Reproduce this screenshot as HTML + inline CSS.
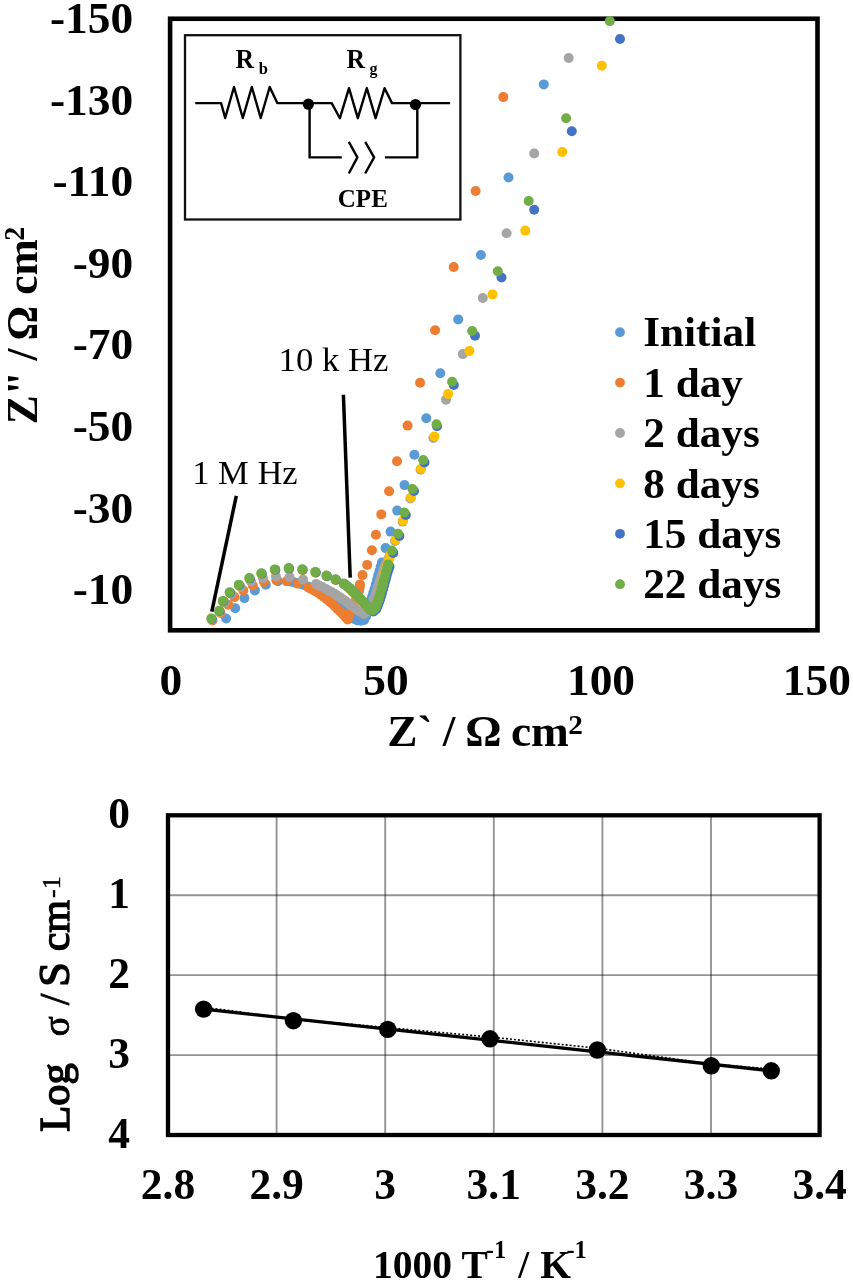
<!DOCTYPE html>
<html><head><meta charset="utf-8"><style>
html,body{margin:0;padding:0;background:#fff;width:853px;height:1280px;overflow:hidden}
svg{display:block;will-change:transform}
</style></head><body>
<svg width="853" height="1280" viewBox="0 0 853 1280">
<rect x="170.1" y="18.75" width="647.4" height="611.55" fill="none" stroke="#000" stroke-width="4.6"/>
<text transform="translate(133.20,33.00) scale(1.045,1)" text-anchor="end" font-family="&#39;Liberation Serif&#39;, serif" font-weight="bold" font-size="43.5">-150</text>
<text transform="translate(133.20,114.60) scale(1.045,1)" text-anchor="end" font-family="&#39;Liberation Serif&#39;, serif" font-weight="bold" font-size="43.5">-130</text>
<text transform="translate(133.20,196.20) scale(1.045,1)" text-anchor="end" font-family="&#39;Liberation Serif&#39;, serif" font-weight="bold" font-size="43.5">-110</text>
<text transform="translate(133.20,277.80) scale(1.045,1)" text-anchor="end" font-family="&#39;Liberation Serif&#39;, serif" font-weight="bold" font-size="43.5">-90</text>
<text transform="translate(133.20,359.40) scale(1.045,1)" text-anchor="end" font-family="&#39;Liberation Serif&#39;, serif" font-weight="bold" font-size="43.5">-70</text>
<text transform="translate(133.20,441.00) scale(1.045,1)" text-anchor="end" font-family="&#39;Liberation Serif&#39;, serif" font-weight="bold" font-size="43.5">-50</text>
<text transform="translate(133.20,522.60) scale(1.045,1)" text-anchor="end" font-family="&#39;Liberation Serif&#39;, serif" font-weight="bold" font-size="43.5">-30</text>
<text transform="translate(133.20,604.20) scale(1.045,1)" text-anchor="end" font-family="&#39;Liberation Serif&#39;, serif" font-weight="bold" font-size="43.5">-10</text>
<text transform="translate(170.80,694.60) scale(1.045,1)" text-anchor="middle" font-family="&#39;Liberation Serif&#39;, serif" font-weight="bold" font-size="43.5">0</text>
<text transform="translate(386.00,694.60) scale(1.045,1)" text-anchor="middle" font-family="&#39;Liberation Serif&#39;, serif" font-weight="bold" font-size="43.5">50</text>
<text transform="translate(601.00,694.60) scale(1.045,1)" text-anchor="middle" font-family="&#39;Liberation Serif&#39;, serif" font-weight="bold" font-size="43.5">100</text>
<text transform="translate(816.80,694.60) scale(1.045,1)" text-anchor="middle" font-family="&#39;Liberation Serif&#39;, serif" font-weight="bold" font-size="43.5">150</text>
<text transform="translate(387.30,745.80) scale(1.045,1)" font-family="&#39;Liberation Serif&#39;, serif" font-weight="bold" font-size="43.4">Z`</text>
<text transform="translate(442.80,745.80) scale(1.045,1)" font-family="&#39;Liberation Serif&#39;, serif" font-weight="bold" font-size="43.4">/</text>
<text transform="translate(465.30,745.80) scale(1.045,1)" font-family="&#39;Liberation Serif&#39;, serif" font-weight="bold" font-size="43.4">Ω</text>
<text transform="translate(510.90,745.80) scale(1.045,1)" font-family="&#39;Liberation Serif&#39;, serif" font-weight="bold" font-size="43.4">cm</text>
<text transform="translate(568.30,733.70) scale(1.045,1)" font-family="&#39;Liberation Serif&#39;, serif" font-weight="bold" font-size="28">2</text>
<g transform="translate(37.2,424.3) rotate(-90) scale(1,1.045)"><text x="0" y="0" font-family="&#39;Liberation Serif&#39;, serif" font-weight="bold" font-size="43.4">Z&quot;</text><text x="63.9" y="0" font-family="&#39;Liberation Serif&#39;, serif" font-weight="bold" font-size="43.4">/</text><text x="83.9" y="0" font-family="&#39;Liberation Serif&#39;, serif" font-weight="bold" font-size="43.4">Ω</text><text x="129.6" y="0" font-family="&#39;Liberation Serif&#39;, serif" font-weight="bold" font-size="43.4">cm</text><text x="183.5" y="-12.6" font-family="&#39;Liberation Serif&#39;, serif" font-weight="bold" font-size="28">2</text></g>
<rect x="185" y="35.2" width="275.4" height="184.3" fill="#fff" stroke="#111" stroke-width="2.3"/>
<polyline fill="none" stroke="#000" stroke-width="2.4" stroke-linejoin="round" points="195.3,103.1 221.1,103.1 225.2,118 234,87 242.8,118 251.8,87 260.7,118 269.7,87 277.3,103.1 308.3,103.1"/>
<polyline fill="none" stroke="#000" stroke-width="2.4" stroke-linejoin="round" points="308.3,103.1 331.7,103.1 339.9,118.2 349,88.2 357.8,118.2 366.8,88.2 375.6,118.2 384.6,88.2 392,103.1 415.5,103.1 450.1,103.1"/>
<polyline fill="none" stroke="#000" stroke-width="2.4" stroke-linejoin="round" points="309.6,104 309.6,157.4 341.8,157.4"/>
<polyline fill="none" stroke="#000" stroke-width="2.4" stroke-linejoin="round" points="384.9,157.4 417.3,157.4 417.3,104"/>
<polyline fill="none" stroke="#000" stroke-width="2.4" stroke-linejoin="round" points="348.8,141.8 357.4,157.4 348.8,173.5"/>
<polyline fill="none" stroke="#000" stroke-width="2.4" stroke-linejoin="round" points="365.2,141.8 374.1,157.4 365.2,173.5"/>
<circle cx="308.4" cy="104.2" r="5.6" fill="#000"/>
<circle cx="415.5" cy="104.5" r="5.6" fill="#000"/>
<text transform="translate(235.50,67.60) scale(0.97,1)" font-family="&#39;Liberation Serif&#39;, serif" font-weight="bold" font-size="26.5">R</text>
<text transform="translate(258.80,73.70) scale(1.0,1)" font-family="&#39;Liberation Serif&#39;, serif" font-weight="bold" font-size="16.5">b</text>
<text transform="translate(346.50,67.60) scale(0.97,1)" font-family="&#39;Liberation Serif&#39;, serif" font-weight="bold" font-size="26.5">R</text>
<text transform="translate(369.40,74.00) scale(1.0,1)" font-family="&#39;Liberation Serif&#39;, serif" font-weight="bold" font-size="16">g</text>
<text transform="translate(337.80,206.60) scale(1.0,1)" font-family="&#39;Liberation Serif&#39;, serif" font-weight="bold" font-size="25">CPE</text>
<text transform="translate(278.60,371.40) scale(1.02,1)" font-family="&#39;Liberation Serif&#39;, serif" font-weight="normal" font-size="34">10 k Hz</text>
<line x1="343.4" y1="394.8" x2="350.2" y2="577.6" stroke="#000" stroke-width="3.5"/>
<text transform="translate(192.20,483.50) scale(1.0,1)" font-family="&#39;Liberation Serif&#39;, serif" font-weight="normal" font-size="34.5">1 M Hz</text>
<line x1="236.3" y1="495.8" x2="211.8" y2="611.7" stroke="#000" stroke-width="3.5"/>
<circle cx="620" cy="332.2" r="4.9" fill="#5B9BD5"/>
<text transform="translate(643.20,346.30) scale(1.045,1)" font-family="&#39;Liberation Serif&#39;, serif" font-weight="bold" font-size="41.4">Initial</text>
<circle cx="620" cy="382.6" r="4.9" fill="#ED7D31"/>
<text transform="translate(643.20,396.70) scale(1.045,1)" font-family="&#39;Liberation Serif&#39;, serif" font-weight="bold" font-size="41.4">1 day</text>
<circle cx="620" cy="433.0" r="4.9" fill="#A5A5A5"/>
<text transform="translate(643.20,447.10) scale(1.045,1)" font-family="&#39;Liberation Serif&#39;, serif" font-weight="bold" font-size="41.4">2 days</text>
<circle cx="620" cy="483.4" r="4.9" fill="#FFC000"/>
<text transform="translate(643.20,497.50) scale(1.045,1)" font-family="&#39;Liberation Serif&#39;, serif" font-weight="bold" font-size="41.4">8 days</text>
<circle cx="620" cy="533.8" r="4.9" fill="#4472C4"/>
<text transform="translate(643.20,547.90) scale(1.045,1)" font-family="&#39;Liberation Serif&#39;, serif" font-weight="bold" font-size="41.4">15 days</text>
<circle cx="620" cy="584.2" r="4.9" fill="#70AD47"/>
<text transform="translate(643.20,598.30) scale(1.045,1)" font-family="&#39;Liberation Serif&#39;, serif" font-weight="bold" font-size="41.4">22 days</text>
<g fill="#5B9BD5"><circle cx="226.1" cy="618.5" r="5.0"/><circle cx="235.2" cy="608.3" r="5.0"/><circle cx="244.4" cy="598.1" r="5.0"/><circle cx="254.9" cy="590.4" r="5.0"/><circle cx="265.8" cy="584.8" r="5.0"/><circle cx="278.0" cy="581.2" r="5.0"/><circle cx="290.0" cy="581.5" r="5.0"/><circle cx="293.7" cy="582.3" r="5.0"/><circle cx="297.3" cy="583.2" r="5.0"/><circle cx="301.0" cy="584.0" r="5.0"/><circle cx="304.7" cy="585.3" r="5.0"/><circle cx="308.3" cy="586.7" r="5.0"/><circle cx="312.0" cy="588.0" r="5.0"/><circle cx="315.3" cy="589.8" r="5.0"/><circle cx="318.7" cy="591.7" r="5.0"/><circle cx="322.0" cy="593.5" r="5.0"/><circle cx="325.0" cy="595.7" r="5.0"/><circle cx="328.0" cy="597.8" r="5.0"/><circle cx="331.0" cy="600.0" r="5.0"/><circle cx="333.7" cy="602.3" r="5.0"/><circle cx="336.3" cy="604.7" r="5.0"/><circle cx="339.0" cy="607.0" r="5.0"/><circle cx="342.5" cy="610.2" r="5.0"/><circle cx="346.0" cy="613.5" r="5.0"/><circle cx="349.0" cy="615.8" r="5.0"/><circle cx="352.0" cy="618.0" r="5.0"/><circle cx="354.8" cy="619.2" r="5.0"/><circle cx="357.6" cy="620.5" r="5.0"/><circle cx="361.0" cy="620.8" r="5.0"/><circle cx="364.1" cy="619.9" r="5.0"/><circle cx="366.0" cy="616.5" r="5.0"/><circle cx="366.9" cy="613.8" r="5.0"/><circle cx="367.8" cy="611.0" r="5.0"/><circle cx="368.8" cy="607.5" r="5.0"/><circle cx="369.8" cy="604.0" r="5.0"/><circle cx="370.9" cy="600.5" r="5.0"/><circle cx="372.0" cy="597.0" r="5.0"/><circle cx="373.2" cy="593.0" r="5.0"/><circle cx="374.5" cy="589.0" r="5.0"/><circle cx="375.8" cy="584.5" r="5.0"/><circle cx="377.0" cy="580.0" r="5.0"/><circle cx="378.2" cy="575.5" r="5.0"/><circle cx="379.5" cy="571.0" r="5.0"/><circle cx="380.7" cy="566.8" r="5.0"/><circle cx="381.9" cy="562.5" r="5.0"/><circle cx="385.6" cy="548.1" r="5.0"/><circle cx="390.6" cy="531.6" r="5.0"/><circle cx="397.2" cy="510.6" r="5.0"/><circle cx="404.5" cy="485.1" r="5.0"/><circle cx="414.4" cy="454.8" r="5.0"/><circle cx="426.3" cy="418.2" r="5.0"/><circle cx="440.3" cy="373.2" r="5.0"/><circle cx="458.2" cy="319.4" r="5.0"/><circle cx="480.9" cy="255.0" r="5.0"/><circle cx="508.5" cy="177.5" r="5.0"/><circle cx="543.8" cy="84.4" r="5.0"/></g>
<g fill="#ED7D31"><circle cx="212.5" cy="620.5" r="5.0"/><circle cx="220.5" cy="613.0" r="5.0"/><circle cx="228.2" cy="604.8" r="5.0"/><circle cx="234.5" cy="597.1" r="5.0"/><circle cx="243.3" cy="590.4" r="5.0"/><circle cx="252.8" cy="585.5" r="5.0"/><circle cx="264.0" cy="582.0" r="5.0"/><circle cx="276.3" cy="580.3" r="5.0"/><circle cx="286.6" cy="581.3" r="5.0"/><circle cx="297.8" cy="583.6" r="5.0"/><circle cx="308.2" cy="587.4" r="5.0"/><circle cx="311.5" cy="589.2" r="5.0"/><circle cx="314.9" cy="591.0" r="5.0"/><circle cx="318.2" cy="592.8" r="5.0"/><circle cx="320.9" cy="594.7" r="5.0"/><circle cx="323.7" cy="596.7" r="5.0"/><circle cx="326.4" cy="598.6" r="5.0"/><circle cx="329.1" cy="601.1" r="5.0"/><circle cx="331.9" cy="603.5" r="5.0"/><circle cx="334.6" cy="606.0" r="5.0"/><circle cx="337.3" cy="608.7" r="5.0"/><circle cx="340.1" cy="611.4" r="5.0"/><circle cx="342.8" cy="614.1" r="5.0"/><circle cx="345.2" cy="616.8" r="5.0"/><circle cx="347.7" cy="619.5" r="5.0"/><circle cx="349.1" cy="615.8" r="5.0"/><circle cx="350.5" cy="612.0" r="5.0"/><circle cx="352.2" cy="608.2" r="5.0"/><circle cx="354.0" cy="604.5" r="5.0"/><circle cx="355.5" cy="600.8" r="5.0"/><circle cx="357.0" cy="597.0" r="5.0"/><circle cx="358.1" cy="593.7" r="5.0"/><circle cx="359.2" cy="590.4" r="5.0"/><circle cx="359.6" cy="587.4" r="5.0"/><circle cx="360.0" cy="584.4" r="5.0"/><circle cx="362.5" cy="575.1" r="5.0"/><circle cx="367.2" cy="564.9" r="5.0"/><circle cx="371.9" cy="550.3" r="5.0"/><circle cx="375.9" cy="534.7" r="5.0"/><circle cx="381.3" cy="514.4" r="5.0"/><circle cx="389.1" cy="491.3" r="5.0"/><circle cx="397.0" cy="461.3" r="5.0"/><circle cx="407.6" cy="425.6" r="5.0"/><circle cx="420.1" cy="382.8" r="5.0"/><circle cx="435.1" cy="330.3" r="5.0"/><circle cx="453.7" cy="267.0" r="5.0"/><circle cx="475.6" cy="191.0" r="5.0"/><circle cx="503.3" cy="97.1" r="5.0"/></g>
<g fill="#A5A5A5"><circle cx="212.0" cy="619.5" r="5.0"/><circle cx="219.5" cy="612.0" r="5.0"/><circle cx="224.5" cy="602.5" r="5.0"/><circle cx="231.5" cy="594.0" r="5.0"/><circle cx="240.5" cy="587.0" r="5.0"/><circle cx="251.0" cy="581.5" r="5.0"/><circle cx="263.0" cy="578.0" r="5.0"/><circle cx="276.0" cy="576.5" r="5.0"/><circle cx="289.5" cy="577.0" r="5.0"/><circle cx="303.0" cy="579.5" r="5.0"/><circle cx="316.0" cy="584.0" r="5.0"/><circle cx="319.3" cy="585.7" r="5.0"/><circle cx="322.7" cy="587.3" r="5.0"/><circle cx="326.0" cy="589.0" r="5.0"/><circle cx="329.0" cy="590.7" r="5.0"/><circle cx="332.0" cy="592.3" r="5.0"/><circle cx="335.0" cy="594.0" r="5.0"/><circle cx="338.0" cy="596.0" r="5.0"/><circle cx="341.0" cy="598.0" r="5.0"/><circle cx="344.0" cy="600.0" r="5.0"/><circle cx="346.7" cy="602.0" r="5.0"/><circle cx="349.3" cy="604.0" r="5.0"/><circle cx="352.0" cy="606.0" r="5.0"/><circle cx="355.5" cy="608.5" r="5.0"/><circle cx="359.0" cy="611.0" r="5.0"/><circle cx="361.5" cy="612.5" r="5.0"/><circle cx="364.0" cy="614.0" r="5.0"/><circle cx="366.0" cy="612.0" r="5.0"/><circle cx="368.0" cy="610.0" r="5.0"/><circle cx="370.0" cy="606.5" r="5.0"/><circle cx="372.0" cy="603.0" r="5.0"/><circle cx="373.8" cy="599.0" r="5.0"/><circle cx="375.5" cy="595.0" r="5.0"/><circle cx="376.5" cy="592.0" r="5.0"/><circle cx="377.5" cy="589.0" r="5.0"/><circle cx="378.5" cy="586.0" r="5.0"/><circle cx="379.5" cy="582.7" r="5.0"/><circle cx="380.5" cy="579.3" r="5.0"/><circle cx="381.5" cy="576.0" r="5.0"/><circle cx="382.7" cy="572.7" r="5.0"/><circle cx="383.8" cy="569.3" r="5.0"/><circle cx="385.0" cy="566.0" r="5.0"/><circle cx="386.7" cy="562.5" r="5.0"/><circle cx="388.4" cy="558.9" r="5.0"/><circle cx="390.1" cy="555.4" r="5.0"/><circle cx="395.1" cy="541.0" r="5.0"/><circle cx="402.6" cy="521.6" r="5.0"/><circle cx="410.4" cy="498.5" r="5.0"/><circle cx="420.5" cy="469.7" r="5.0"/><circle cx="433.4" cy="438.0" r="5.0"/><circle cx="446.0" cy="399.7" r="5.0"/><circle cx="462.8" cy="354.1" r="5.0"/><circle cx="482.8" cy="298.0" r="5.0"/><circle cx="506.6" cy="233.2" r="5.0"/><circle cx="534.2" cy="153.5" r="5.0"/><circle cx="568.7" cy="58.0" r="5.0"/></g>
<g fill="#FFC000"><circle cx="211.6" cy="619.3" r="5.0"/><circle cx="219.4" cy="611.6" r="5.0"/><circle cx="223.2" cy="601.7" r="5.0"/><circle cx="229.9" cy="593.0" r="5.0"/><circle cx="239.1" cy="585.6" r="5.0"/><circle cx="249.6" cy="578.9" r="5.0"/><circle cx="261.6" cy="574.0" r="5.0"/><circle cx="275.1" cy="570.2" r="5.0"/><circle cx="288.9" cy="568.9" r="5.0"/><circle cx="302.5" cy="570.1" r="5.0"/><circle cx="315.6" cy="572.7" r="5.0"/><circle cx="326.7" cy="576.4" r="5.0"/><circle cx="335.7" cy="580.1" r="5.0"/><circle cx="343.9" cy="584.2" r="5.0"/><circle cx="346.8" cy="586.5" r="5.0"/><circle cx="349.7" cy="588.7" r="5.0"/><circle cx="351.9" cy="590.9" r="5.0"/><circle cx="354.0" cy="593.1" r="5.0"/><circle cx="356.2" cy="595.3" r="5.0"/><circle cx="358.4" cy="597.5" r="5.0"/><circle cx="360.6" cy="599.6" r="5.0"/><circle cx="362.8" cy="601.8" r="5.0"/><circle cx="365.1" cy="604.3" r="5.0"/><circle cx="367.3" cy="606.8" r="5.0"/><circle cx="368.9" cy="608.5" r="5.0"/><circle cx="370.5" cy="610.3" r="5.0"/><circle cx="373.5" cy="611.3" r="5.0"/><circle cx="376.0" cy="608.5" r="5.0"/><circle cx="377.0" cy="605.8" r="5.0"/><circle cx="378.0" cy="603.0" r="5.0"/><circle cx="378.8" cy="600.2" r="5.0"/><circle cx="379.5" cy="597.5" r="5.0"/><circle cx="380.2" cy="594.8" r="5.0"/><circle cx="381.0" cy="592.0" r="5.0"/><circle cx="381.6" cy="589.2" r="5.0"/><circle cx="382.2" cy="586.5" r="5.0"/><circle cx="382.9" cy="582.7" r="5.0"/><circle cx="383.7" cy="578.9" r="5.0"/><circle cx="384.4" cy="575.1" r="5.0"/><circle cx="385.3" cy="572.0" r="5.0"/><circle cx="386.2" cy="569.0" r="5.0"/><circle cx="387.1" cy="565.9" r="5.0"/><circle cx="388.3" cy="562.1" r="5.0"/><circle cx="389.4" cy="558.2" r="5.0"/><circle cx="390.6" cy="554.4" r="5.0"/><circle cx="395.6" cy="540.0" r="5.0"/><circle cx="403.1" cy="520.6" r="5.0"/><circle cx="410.9" cy="497.5" r="5.0"/><circle cx="421.0" cy="468.7" r="5.0"/><circle cx="434.4" cy="436.5" r="5.0"/><circle cx="448.2" cy="393.9" r="5.0"/><circle cx="469.4" cy="350.9" r="5.0"/><circle cx="492.5" cy="294.4" r="5.0"/><circle cx="525.3" cy="230.6" r="5.0"/><circle cx="562.3" cy="152.0" r="5.0"/><circle cx="601.8" cy="65.8" r="5.0"/></g>
<g fill="#4472C4"><circle cx="211.8" cy="619.0" r="5.0"/><circle cx="219.6" cy="611.3" r="5.0"/><circle cx="223.4" cy="601.4" r="5.0"/><circle cx="230.1" cy="592.7" r="5.0"/><circle cx="239.3" cy="585.3" r="5.0"/><circle cx="249.8" cy="578.6" r="5.0"/><circle cx="261.8" cy="573.7" r="5.0"/><circle cx="275.3" cy="569.9" r="5.0"/><circle cx="289.1" cy="568.6" r="5.0"/><circle cx="302.7" cy="569.8" r="5.0"/><circle cx="315.8" cy="572.4" r="5.0"/><circle cx="326.9" cy="576.1" r="5.0"/><circle cx="335.9" cy="579.8" r="5.0"/><circle cx="344.1" cy="583.9" r="5.0"/><circle cx="347.0" cy="586.1" r="5.0"/><circle cx="349.9" cy="588.4" r="5.0"/><circle cx="352.1" cy="590.6" r="5.0"/><circle cx="354.2" cy="592.8" r="5.0"/><circle cx="356.4" cy="595.0" r="5.0"/><circle cx="358.6" cy="597.2" r="5.0"/><circle cx="360.8" cy="599.3" r="5.0"/><circle cx="363.0" cy="601.5" r="5.0"/><circle cx="365.2" cy="604.0" r="5.0"/><circle cx="367.5" cy="606.5" r="5.0"/><circle cx="369.0" cy="608.2" r="5.0"/><circle cx="370.5" cy="610.0" r="5.0"/><circle cx="373.5" cy="611.5" r="5.0"/><circle cx="376.0" cy="609.5" r="5.0"/><circle cx="377.0" cy="607.2" r="5.0"/><circle cx="378.0" cy="605.0" r="5.0"/><circle cx="379.0" cy="602.2" r="5.0"/><circle cx="380.0" cy="599.5" r="5.0"/><circle cx="381.0" cy="596.2" r="5.0"/><circle cx="382.0" cy="593.0" r="5.0"/><circle cx="383.0" cy="589.2" r="5.0"/><circle cx="384.0" cy="585.5" r="5.0"/><circle cx="384.8" cy="582.3" r="5.0"/><circle cx="385.7" cy="579.2" r="5.0"/><circle cx="386.5" cy="576.0" r="5.0"/><circle cx="387.5" cy="572.8" r="5.0"/><circle cx="388.5" cy="569.7" r="5.0"/><circle cx="389.5" cy="566.5" r="5.0"/><circle cx="393.3" cy="553.0" r="5.0"/><circle cx="399.4" cy="536.0" r="5.0"/><circle cx="405.8" cy="515.0" r="5.0"/><circle cx="414.0" cy="491.0" r="5.0"/><circle cx="424.5" cy="462.5" r="5.0"/><circle cx="437.0" cy="426.3" r="5.0"/><circle cx="453.8" cy="385.0" r="5.0"/><circle cx="475.0" cy="335.7" r="5.0"/><circle cx="501.5" cy="277.5" r="5.0"/><circle cx="534.2" cy="209.8" r="5.0"/><circle cx="571.8" cy="131.2" r="5.0"/><circle cx="620.0" cy="39.0" r="5.0"/></g>
<g fill="#70AD47"><circle cx="211.3" cy="618.5" r="5.0"/><circle cx="219.1" cy="610.8" r="5.0"/><circle cx="222.9" cy="600.9" r="5.0"/><circle cx="229.6" cy="592.2" r="5.0"/><circle cx="238.8" cy="584.8" r="5.0"/><circle cx="249.3" cy="578.1" r="5.0"/><circle cx="261.3" cy="573.2" r="5.0"/><circle cx="274.8" cy="569.4" r="5.0"/><circle cx="288.6" cy="568.1" r="5.0"/><circle cx="302.2" cy="569.3" r="5.0"/><circle cx="315.3" cy="571.9" r="5.0"/><circle cx="326.4" cy="575.6" r="5.0"/><circle cx="335.4" cy="579.3" r="5.0"/><circle cx="343.6" cy="583.4" r="5.0"/><circle cx="346.5" cy="585.6" r="5.0"/><circle cx="349.4" cy="587.9" r="5.0"/><circle cx="351.6" cy="590.1" r="5.0"/><circle cx="353.7" cy="592.3" r="5.0"/><circle cx="355.9" cy="594.5" r="5.0"/><circle cx="358.1" cy="596.7" r="5.0"/><circle cx="360.3" cy="598.8" r="5.0"/><circle cx="362.5" cy="601.0" r="5.0"/><circle cx="364.8" cy="603.5" r="5.0"/><circle cx="367.0" cy="606.0" r="5.0"/><circle cx="368.5" cy="607.8" r="5.0"/><circle cx="370.0" cy="609.5" r="5.0"/><circle cx="372.5" cy="610.5" r="5.0"/><circle cx="374.5" cy="609.0" r="5.0"/><circle cx="375.5" cy="606.9" r="5.0"/><circle cx="376.5" cy="604.7" r="5.0"/><circle cx="377.5" cy="602.0" r="5.0"/><circle cx="378.5" cy="599.4" r="5.0"/><circle cx="379.5" cy="596.2" r="5.0"/><circle cx="380.5" cy="593.0" r="5.0"/><circle cx="381.5" cy="589.1" r="5.0"/><circle cx="382.5" cy="585.2" r="5.0"/><circle cx="383.3" cy="582.1" r="5.0"/><circle cx="384.2" cy="578.9" r="5.0"/><circle cx="385.0" cy="575.8" r="5.0"/><circle cx="386.0" cy="572.0" r="5.0"/><circle cx="387.1" cy="568.2" r="5.0"/><circle cx="388.1" cy="564.4" r="5.0"/><circle cx="391.9" cy="550.6" r="5.0"/><circle cx="398.1" cy="533.8" r="5.0"/><circle cx="404.4" cy="512.5" r="5.0"/><circle cx="412.5" cy="489.0" r="5.0"/><circle cx="423.2" cy="460.0" r="5.0"/><circle cx="436.5" cy="424.2" r="5.0"/><circle cx="452.1" cy="381.7" r="5.0"/><circle cx="472.2" cy="331.0" r="5.0"/><circle cx="497.8" cy="271.3" r="5.0"/><circle cx="528.7" cy="201.0" r="5.0"/><circle cx="566.1" cy="118.2" r="5.0"/><circle cx="609.8" cy="21.1" r="5.0"/></g>
<line x1="168" y1="895.2" x2="819.6" y2="895.2" stroke="#000" stroke-opacity="0.42" stroke-width="1.9"/>
<line x1="168" y1="975.1" x2="819.6" y2="975.1" stroke="#000" stroke-opacity="0.42" stroke-width="1.9"/>
<line x1="168" y1="1055.1" x2="819.6" y2="1055.1" stroke="#000" stroke-opacity="0.42" stroke-width="1.9"/>
<line x1="276.6" y1="815.3" x2="276.6" y2="1135" stroke="#000" stroke-opacity="0.42" stroke-width="1.9"/>
<line x1="385.2" y1="815.3" x2="385.2" y2="1135" stroke="#000" stroke-opacity="0.42" stroke-width="1.9"/>
<line x1="493.8" y1="815.3" x2="493.8" y2="1135" stroke="#000" stroke-opacity="0.42" stroke-width="1.9"/>
<line x1="602.4" y1="815.3" x2="602.4" y2="1135" stroke="#000" stroke-opacity="0.42" stroke-width="1.9"/>
<line x1="711.0" y1="815.3" x2="711.0" y2="1135" stroke="#000" stroke-opacity="0.42" stroke-width="1.9"/>
<rect x="168" y="815.3" width="651.6" height="319.7" fill="none" stroke="#000" stroke-width="4.3"/>
<text transform="translate(130.00,828.10) scale(1.0,1)" text-anchor="end" font-family="&#39;Liberation Serif&#39;, serif" font-weight="bold" font-size="43.5">0</text>
<text transform="translate(130.00,908.02) scale(1.0,1)" text-anchor="end" font-family="&#39;Liberation Serif&#39;, serif" font-weight="bold" font-size="43.5">1</text>
<text transform="translate(130.00,987.95) scale(1.0,1)" text-anchor="end" font-family="&#39;Liberation Serif&#39;, serif" font-weight="bold" font-size="43.5">2</text>
<text transform="translate(130.00,1067.88) scale(1.0,1)" text-anchor="end" font-family="&#39;Liberation Serif&#39;, serif" font-weight="bold" font-size="43.5">3</text>
<text transform="translate(130.00,1147.80) scale(1.0,1)" text-anchor="end" font-family="&#39;Liberation Serif&#39;, serif" font-weight="bold" font-size="43.5">4</text>
<text transform="translate(168.00,1198.60) scale(1.0,1)" text-anchor="middle" font-family="&#39;Liberation Serif&#39;, serif" font-weight="bold" font-size="43.5">2.8</text>
<text transform="translate(276.60,1198.60) scale(1.0,1)" text-anchor="middle" font-family="&#39;Liberation Serif&#39;, serif" font-weight="bold" font-size="43.5">2.9</text>
<text transform="translate(385.20,1198.60) scale(1.0,1)" text-anchor="middle" font-family="&#39;Liberation Serif&#39;, serif" font-weight="bold" font-size="43.5">3</text>
<text transform="translate(493.80,1198.60) scale(1.0,1)" text-anchor="middle" font-family="&#39;Liberation Serif&#39;, serif" font-weight="bold" font-size="43.5">3.1</text>
<text transform="translate(602.40,1198.60) scale(1.0,1)" text-anchor="middle" font-family="&#39;Liberation Serif&#39;, serif" font-weight="bold" font-size="43.5">3.2</text>
<text transform="translate(711.00,1198.60) scale(1.0,1)" text-anchor="middle" font-family="&#39;Liberation Serif&#39;, serif" font-weight="bold" font-size="43.5">3.3</text>
<text transform="translate(819.60,1198.60) scale(1.0,1)" text-anchor="middle" font-family="&#39;Liberation Serif&#39;, serif" font-weight="bold" font-size="43.5">3.4</text>
<line x1="203.6" y1="1009.1" x2="771.3" y2="1070.8" stroke="#000" stroke-width="3.3"/>
<polyline fill="none" stroke="#000" stroke-width="1.6" stroke-dasharray="2,2" points="203.6,1007.3000000000001 293.4,1018.9000000000001 387.7,1027.6000000000001 490,1037.0 597.3,1048.2 711.3,1064.0 771.3,1069.0"/>
<circle cx="203.6" cy="1009.1" r="8.7" fill="#000"/>
<circle cx="293.4" cy="1020.7" r="8.7" fill="#000"/>
<circle cx="387.7" cy="1029.4" r="8.7" fill="#000"/>
<circle cx="490" cy="1038.8" r="8.7" fill="#000"/>
<circle cx="597.3" cy="1050" r="8.7" fill="#000"/>
<circle cx="711.3" cy="1065.8" r="8.7" fill="#000"/>
<circle cx="771.3" cy="1070.8" r="8.7" fill="#000"/>
<text transform="translate(372.90,1278.00) scale(1.0,1)" font-family="&#39;Liberation Serif&#39;, serif" font-weight="bold" font-size="39.5">1000</text>
<text transform="translate(461.40,1278.00) scale(1.0,1)" font-family="&#39;Liberation Serif&#39;, serif" font-weight="bold" font-size="39.5">T</text>
<text transform="translate(485.80,1258.30) scale(1.0,1)" font-family="&#39;Liberation Serif&#39;, serif" font-weight="bold" font-size="24.5">-1</text>
<text transform="translate(518.30,1278.00) scale(1.0,1)" font-family="&#39;Liberation Serif&#39;, serif" font-weight="bold" font-size="39.5">/</text>
<text transform="translate(540.20,1278.00) scale(1.0,1)" font-family="&#39;Liberation Serif&#39;, serif" font-weight="bold" font-size="39.5">K</text>
<text transform="translate(566.40,1258.30) scale(1.0,1)" font-family="&#39;Liberation Serif&#39;, serif" font-weight="bold" font-size="24.5">-1</text>
<g transform="translate(69.3,1130.7) rotate(-90)" stroke="#000" stroke-width="0.8"><text x="-1.0" y="0" font-family="&#39;Liberation Serif&#39;, serif" font-weight="normal" font-size="42.5" stroke-width="1.5">Log</text><text x="94.5" y="0" font-family="&#39;Liberation Serif&#39;, serif" font-weight="normal" font-size="37" stroke-width="0.8">σ</text><text x="125.5" y="0" font-family="&#39;Liberation Serif&#39;, serif" font-weight="normal" font-size="42" stroke-width="0.8">/</text><text x="143.9" y="0" font-family="&#39;Liberation Serif&#39;, serif" font-weight="normal" font-size="44" stroke-width="1.4">S</text><text x="179.4" y="0" font-family="&#39;Liberation Serif&#39;, serif" font-weight="normal" font-size="42" stroke-width="1.4">cm</text><text x="232.8" y="-9" font-family="&#39;Liberation Serif&#39;, serif" font-weight="normal" font-size="26" stroke-width="0.4">-1</text></g>
</svg>
</body></html>
